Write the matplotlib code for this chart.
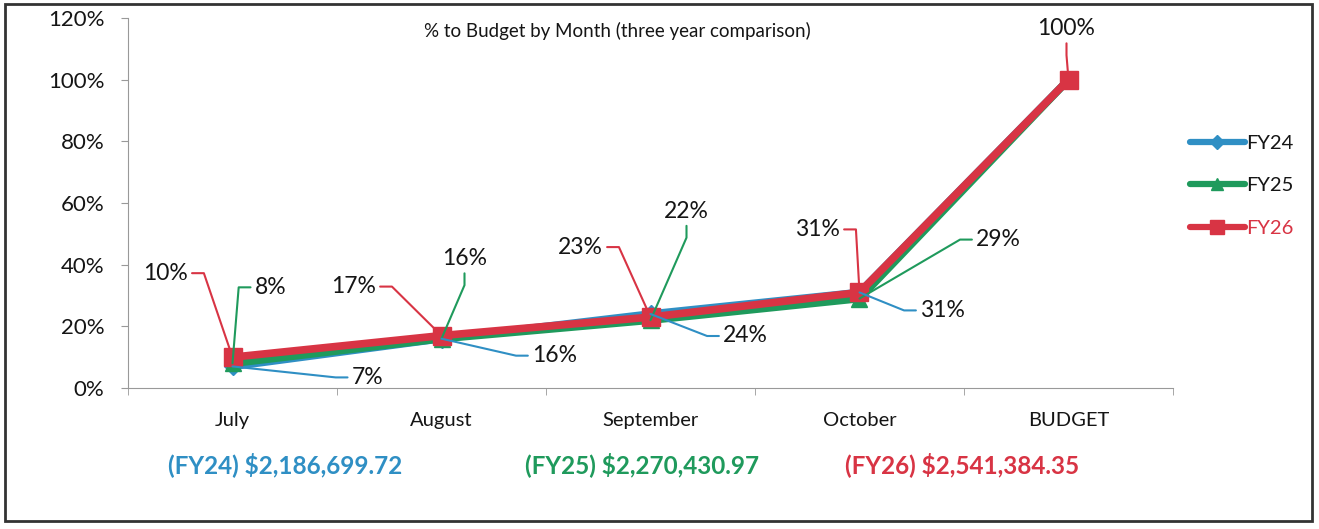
import matplotlib.pyplot as plt
from matplotlib.patches import Rectangle

# data
months = ['July', 'August', 'September', 'October', 'BUDGET']
series = ['FY24', 'FY25', 'FY26']
fy24 = [7, 16, 24, 31, 100]
fy25 = [8, 16, 22, 29, 100]
fy26 = [10, 17, 23, 31, 100]
totals = ['(FY24) $2,186,699.72', '(FY25) $2,270,430.97', '(FY26) $2,541,384.35']
title = '% to Budget by Month (three year comparison)'

colors = ['#2f8fc4', '#1f9a5c', '#d83444']
markers = ['D', '^', 's']
msizes = [9, 11, 13]

# label placement: (series idx, month idx, dx px, dy px, side)
labels = [
    (2, 0, -67, 84, 'L'), (1, 0, 38, 76, 'R'), (0, 0, 135, -11, 'R'),
    (2, 1, -88, 49, 'L'), (1, 1, 23, 80, 'U'), (0, 1, 113, -17, 'R'),
    (2, 2, -70, 70, 'L'), (1, 2, 36, 109, 'U'), (0, 2, 95, -22, 'R'),
    (2, 3, -42, 63, 'L'), (1, 3, 139, 59, 'R'), (0, 3, 83, -18, 'R'),
    (2, 4, -2, 51, 'U'),
]

plt.rcParams['font.family'] = ['Lato', 'DejaVu Sans']
ink = '#151515'

W, H = 1319, 529
fig = plt.figure(figsize=(W / 100, H / 100), dpi=100)
ax = fig.add_axes([128 / W, 1 - 388 / H, (1173 - 128) / W, (388 - 18) / H])

x = range(len(months))
values = [fy24, fy25, fy26]
for i, (name, vals) in enumerate(zip(series, values)):
    ax.plot(x, vals, color=colors[i], lw=5.5, marker=markers[i], ms=msizes[i],
            label=name, solid_capstyle='round')

for si, mi, dx, dy, side in labels:
    v = values[si][mi]
    if side == 'L':
        rel, ang = (1, 0.5), 0
    elif side == 'R':
        rel, ang = (0, 0.5), 180
    else:
        rel, ang = (0.5, 0), -90
    ax.annotate(f'{v}%', xy=(mi, v), xytext=(dx, dy), textcoords='offset pixels',
                ha='center', va='center', fontsize=16.5, color=ink,
                arrowprops=dict(arrowstyle='-', color=colors[si], lw=1.5,
                                relpos=rel, shrinkA=3, shrinkB=0, patchA=None,
                                connectionstyle=f'arc,angleA={ang},armA=16,angleB=0,armB=0,rad=0'))

ax.set_xlim(-0.5, len(months) - 0.5)
ax.set_ylim(0, 120)
ax.set_yticks(range(0, 121, 20))
ax.set_yticklabels([f'{t}%' for t in range(0, 121, 20)], fontsize=16, color=ink)
ax.set_xticks(list(x))
ax.set_xticklabels(months, fontsize=14.5, color=ink)
ax.set_xticks([i + 0.5 for i in range(-1, len(months))], minor=True)
ax.tick_params(axis='x', which='major', length=0, pad=17)
ax.tick_params(axis='x', which='minor', length=5, color='#999999')
ax.tick_params(axis='y', length=5, color='#999999', pad=12)
for s in ['top', 'right']:
    ax.spines[s].set_visible(False)
for s in ['left', 'bottom']:
    ax.spines[s].set_color('#999999')

fig.text(617 / W, 1 - 31 / H, title, ha='center', va='center', fontsize=13.5, color=ink)

tot_x = [285, 642, 962]
for t, c, tx in zip(totals, colors, tot_x):
    fig.text(tx / W, 1 - 465 / H, t, ha='center', va='center', fontsize=17.5,
             fontweight='bold', color=c)

leg = fig.legend(loc='upper left', bbox_to_anchor=(1172 / W, 1 - 117 / H), frameon=False,
                 fontsize=14.5, handlelength=2.7, labelspacing=1.25, handletextpad=0.1,
                 markerscale=0.75)
for h in leg.legend_handles:
    h.set_linewidth(4.5)
for t in leg.get_texts():
    t.set_color(ink)
leg.get_texts()[2].set_color(colors[2])

fig.patches.append(Rectangle((5 / W, 1 - 521 / H), 1307 / W, 517 / H, transform=fig.transFigure,
                             fill=False, edgecolor='#333333', lw=2))

fig.savefig('out.png', dpi=100)
